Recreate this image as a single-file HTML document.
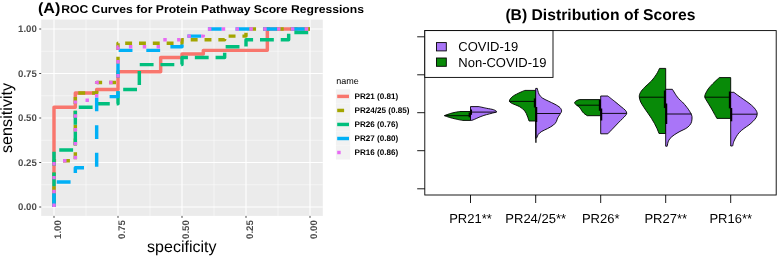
<!DOCTYPE html>
<html lang="en"><head><meta charset="utf-8"><title>ROC Curves and Distribution of Scores</title>
<style>html,body{margin:0;padding:0;background:#fff;}body{width:778px;height:257px;overflow:hidden;}svg{display:block;}text{font-family:"Liberation Sans",Arial,Helvetica,sans-serif;text-rendering:geometricPrecision;}</style>
</head><body>
<svg width="778" height="257" viewBox="0 0 778 257">
<rect x="0" y="0" width="778" height="257" fill="#ffffff"/>
<g id="panelA">
<rect x="41.20" y="19.60" width="281.60" height="196.30" fill="#EBEBEB"/>
<line x1="86.00" y1="19.60" x2="86.00" y2="215.90" stroke="#FFFFFF" stroke-width="0.5"/>
<line x1="41.20" y1="184.75" x2="322.80" y2="184.75" stroke="#FFFFFF" stroke-width="0.5"/>
<line x1="150.00" y1="19.60" x2="150.00" y2="215.90" stroke="#FFFFFF" stroke-width="0.5"/>
<line x1="41.20" y1="140.25" x2="322.80" y2="140.25" stroke="#FFFFFF" stroke-width="0.5"/>
<line x1="214.00" y1="19.60" x2="214.00" y2="215.90" stroke="#FFFFFF" stroke-width="0.5"/>
<line x1="41.20" y1="95.75" x2="322.80" y2="95.75" stroke="#FFFFFF" stroke-width="0.5"/>
<line x1="278.00" y1="19.60" x2="278.00" y2="215.90" stroke="#FFFFFF" stroke-width="0.5"/>
<line x1="41.20" y1="51.25" x2="322.80" y2="51.25" stroke="#FFFFFF" stroke-width="0.5"/>
<line x1="54.00" y1="19.60" x2="54.00" y2="215.90" stroke="#FFFFFF" stroke-width="1.1"/>
<line x1="41.20" y1="207.00" x2="322.80" y2="207.00" stroke="#FFFFFF" stroke-width="1.1"/>
<line x1="118.00" y1="19.60" x2="118.00" y2="215.90" stroke="#FFFFFF" stroke-width="1.1"/>
<line x1="41.20" y1="162.50" x2="322.80" y2="162.50" stroke="#FFFFFF" stroke-width="1.1"/>
<line x1="182.00" y1="19.60" x2="182.00" y2="215.90" stroke="#FFFFFF" stroke-width="1.1"/>
<line x1="41.20" y1="118.00" x2="322.80" y2="118.00" stroke="#FFFFFF" stroke-width="1.1"/>
<line x1="246.00" y1="19.60" x2="246.00" y2="215.90" stroke="#FFFFFF" stroke-width="1.1"/>
<line x1="41.20" y1="73.50" x2="322.80" y2="73.50" stroke="#FFFFFF" stroke-width="1.1"/>
<line x1="310.00" y1="19.60" x2="310.00" y2="215.90" stroke="#FFFFFF" stroke-width="1.1"/>
<line x1="41.20" y1="29.00" x2="322.80" y2="29.00" stroke="#FFFFFF" stroke-width="1.1"/>
<path d="M54.00 207.00 L54.00 107.32 L75.33 107.32 L75.33 93.08 L96.67 93.08 L96.67 89.52 L118.00 89.52 L118.00 71.72 L160.67 71.72 L160.67 57.48 L182.00 57.48 L182.00 53.92 L203.33 53.92 L203.33 50.36 L267.33 50.36 L267.33 29.00 L310.00 29.00" fill="none" stroke="#F8766D" stroke-width="3.45" stroke-linejoin="round" stroke-linecap="butt"/>
<path d="M54.00 207.00 L54.00 160.72 L75.33 160.72 L75.33 93.08 L96.67 93.08 L96.67 82.40 L118.00 82.40 L118.00 43.24 L182.00 43.24 L182.00 39.68 L224.67 39.68 L224.67 36.12 L246.00 36.12 L246.00 29.00 L310.00 29.00" fill="none" stroke="#A3A500" stroke-width="3.45" stroke-linejoin="round" stroke-linecap="butt" stroke-dasharray="6.91 6.91"/>
<path d="M54.00 207.00 L54.00 150.04 L75.33 150.04 L75.33 107.32 L96.67 107.32 L96.67 103.76 L118.00 103.76 L118.00 89.52 L139.33 89.52 L139.33 64.60 L182.00 64.60 L182.00 57.48 L224.67 57.48 L224.67 46.80 L246.00 46.80 L246.00 39.68 L288.67 39.68 L288.67 32.56 L310.00 32.56 L310.00 29.00" fill="none" stroke="#00BF7D" stroke-width="3.45" stroke-linejoin="round" stroke-linecap="butt" stroke-dasharray="13.83 6.91"/>
<path d="M54.00 207.00 L54.00 182.08 L75.33 182.08 L75.33 167.84 L96.67 167.84 L96.67 96.64 L118.00 96.64 L118.00 50.36 L160.67 50.36 L160.67 46.80 L182.00 46.80 L182.00 36.12 L203.33 36.12 L203.33 29.00 L310.00 29.00" fill="none" stroke="#00B0F6" stroke-width="3.45" stroke-linejoin="round" stroke-linecap="butt" stroke-dasharray="13.83 13.83"/>
<path d="M54.00 207.00 L54.00 160.72 L75.33 160.72 L75.33 100.20 L96.67 100.20 L96.67 82.40 L118.00 82.40 L118.00 46.80 L160.67 46.80 L160.67 39.68 L182.00 39.68 L182.00 36.12 L203.33 36.12 L203.33 29.00 L310.00 29.00" fill="none" stroke="#E76BF3" stroke-width="3.45" stroke-linejoin="round" stroke-linecap="butt" stroke-dasharray="3.46 10.37"/>
<line x1="54.00" y1="215.90" x2="54.00" y2="217.90" stroke="#333333" stroke-width="0.9"/>
<line x1="39.20" y1="207.00" x2="41.20" y2="207.00" stroke="#333333" stroke-width="0.9"/>
<line x1="118.00" y1="215.90" x2="118.00" y2="217.90" stroke="#333333" stroke-width="0.9"/>
<line x1="39.20" y1="162.50" x2="41.20" y2="162.50" stroke="#333333" stroke-width="0.9"/>
<line x1="182.00" y1="215.90" x2="182.00" y2="217.90" stroke="#333333" stroke-width="0.9"/>
<line x1="39.20" y1="118.00" x2="41.20" y2="118.00" stroke="#333333" stroke-width="0.9"/>
<line x1="246.00" y1="215.90" x2="246.00" y2="217.90" stroke="#333333" stroke-width="0.9"/>
<line x1="39.20" y1="73.50" x2="41.20" y2="73.50" stroke="#333333" stroke-width="0.9"/>
<line x1="310.00" y1="215.90" x2="310.00" y2="217.90" stroke="#333333" stroke-width="0.9"/>
<line x1="39.20" y1="29.00" x2="41.20" y2="29.00" stroke="#333333" stroke-width="0.9"/>
<text x="36.8" y="210.30" font-size="9.65" font-weight="bold" fill="#4D4D4D" text-anchor="end">0.00</text>
<text x="36.8" y="165.80" font-size="9.65" font-weight="bold" fill="#4D4D4D" text-anchor="end">0.25</text>
<text x="36.8" y="121.30" font-size="9.65" font-weight="bold" fill="#4D4D4D" text-anchor="end">0.50</text>
<text x="36.8" y="76.80" font-size="9.65" font-weight="bold" fill="#4D4D4D" text-anchor="end">0.75</text>
<text x="36.8" y="32.30" font-size="9.65" font-weight="bold" fill="#4D4D4D" text-anchor="end">1.00</text>
<text transform="translate(60.80 220.2) rotate(-90)" font-size="9.6" font-weight="bold" fill="#4D4D4D" text-anchor="end">1.00</text>
<text transform="translate(124.80 220.2) rotate(-90)" font-size="9.6" font-weight="bold" fill="#4D4D4D" text-anchor="end">0.75</text>
<text transform="translate(188.80 220.2) rotate(-90)" font-size="9.6" font-weight="bold" fill="#4D4D4D" text-anchor="end">0.50</text>
<text transform="translate(252.80 220.2) rotate(-90)" font-size="9.6" font-weight="bold" fill="#4D4D4D" text-anchor="end">0.25</text>
<text transform="translate(316.80 220.2) rotate(-90)" font-size="9.6" font-weight="bold" fill="#4D4D4D" text-anchor="end">0.00</text>
<text x="181.8" y="252.4" font-size="16" fill="#000000" text-anchor="middle">specificity</text>
<text transform="translate(12.3 117.9) rotate(-90)" font-size="16.2" fill="#000000" text-anchor="middle">sensitivity</text>
<text transform="translate(37.9 12.9) scale(1.09 1)" font-size="14.8" font-weight="bold" fill="#000000">(A)</text>
<text transform="translate(61.2 12.9) scale(1.072 1)" font-size="11.35" font-weight="bold" fill="#000000">ROC Curves for Protein Pathway Score Regressions</text>
<text x="336.3" y="83.6" font-size="9" fill="#000000">name</text>
<rect x="335.9" y="89.35" width="14.3" height="14.1" fill="#F2F2F2"/>
<line x1="337.2" y1="96.40" x2="349" y2="96.40" stroke="#F8766D" stroke-width="3.45"/>
<text x="354.5" y="99.35" font-size="8.1" font-weight="bold" fill="#000000">PR21 (0.81)</text>
<rect x="335.9" y="103.40" width="14.3" height="14.1" fill="#F2F2F2"/>
<line x1="337.2" y1="110.45" x2="349" y2="110.45" stroke="#A3A500" stroke-width="3.45" stroke-dasharray="6.91 6.91"/>
<text x="354.5" y="113.40" font-size="8.1" font-weight="bold" fill="#000000">PR24/25 (0.85)</text>
<rect x="335.9" y="117.40" width="14.3" height="14.1" fill="#F2F2F2"/>
<line x1="337.2" y1="124.45" x2="349" y2="124.45" stroke="#00BF7D" stroke-width="3.45" stroke-dasharray="13.83 6.91"/>
<text x="354.5" y="127.40" font-size="8.1" font-weight="bold" fill="#000000">PR26 (0.76)</text>
<rect x="335.9" y="131.45" width="14.3" height="14.1" fill="#F2F2F2"/>
<line x1="337.2" y1="138.50" x2="349" y2="138.50" stroke="#00B0F6" stroke-width="3.45" stroke-dasharray="13.83 13.83"/>
<text x="354.5" y="141.45" font-size="8.1" font-weight="bold" fill="#000000">PR27 (0.80)</text>
<rect x="335.9" y="145.45" width="14.3" height="14.1" fill="#F2F2F2"/>
<line x1="337.2" y1="152.50" x2="349" y2="152.50" stroke="#E76BF3" stroke-width="3.45" stroke-dasharray="3.46 10.37"/>
<text x="354.5" y="155.45" font-size="8.1" font-weight="bold" fill="#000000">PR16 (0.86)</text>
</g>
<g id="panelB">
<text x="600.4" y="20.2" font-size="15.7" font-weight="bold" fill="#000000" text-anchor="middle">(B) Distribution of Scores</text>
<path d="M470.50 111.50 L459.50 111.50 C459.50 111.50 454.22 112.42 451.70 113.10 C449.18 113.78 444.40 115.60 444.40 115.60 C444.40 115.60 447.83 116.93 449.70 117.50 C451.57 118.07 453.48 118.52 455.60 119.00 C457.72 119.48 462.40 120.40 462.40 120.40 L470.50 120.40 Z" fill="#088A08" stroke="#000000" stroke-width="0.9" stroke-linejoin="round"/>
<path d="M470.50 106.60 L478.90 106.60 C478.90 106.60 484.27 107.78 486.70 108.30 C489.13 108.82 491.85 109.13 493.50 109.70 C495.15 110.27 496.77 111.13 496.60 111.70 C496.43 112.27 494.15 112.62 492.50 113.10 C490.85 113.58 488.63 114.03 486.70 114.60 C484.77 115.17 483.17 115.62 480.90 116.50 C478.63 117.38 474.83 119.25 473.10 119.90 C471.37 120.55 470.50 120.40 470.50 120.40 Z" fill="#A975F8" stroke="#000000" stroke-width="0.9" stroke-linejoin="round"/>
<line x1="444.4" y1="115.7" x2="470.5" y2="115.7" stroke="#000000" stroke-width="0.90"/>
<line x1="470.5" y1="112.1" x2="496.6" y2="112.1" stroke="#000000" stroke-width="0.90"/>
<line x1="469.6" y1="112.5" x2="469.6" y2="117.3" stroke="#000000" stroke-width="1.90"/>
<line x1="471.1" y1="109.5" x2="471.1" y2="114.8" stroke="#000000" stroke-width="1.90"/>
<path d="M535.70 90.40 L524.80 90.40 C524.80 90.40 520.10 92.33 518.00 93.40 C515.90 94.47 513.63 95.53 512.20 96.80 C510.77 98.07 509.40 99.88 509.40 101.00 C509.40 102.12 510.47 102.53 512.20 103.50 C513.93 104.47 517.70 105.55 519.80 106.80 C521.90 108.05 523.55 109.47 524.80 111.00 C526.05 112.53 526.60 114.33 527.30 116.00 C528.00 117.67 529.00 121.00 529.00 121.00 L535.70 121.00 Z" fill="#088A08" stroke="#000000" stroke-width="0.9" stroke-linejoin="round"/>
<path d="M535.70 88.40 L537.30 88.40 C537.30 88.40 538.15 92.60 539.00 94.20 C539.85 95.80 540.87 96.87 542.40 98.00 C543.93 99.13 546.10 99.95 548.20 101.00 C550.30 102.05 553.03 103.20 555.00 104.30 C556.97 105.40 558.90 106.48 560.00 107.60 C561.10 108.72 561.60 109.88 561.60 111.00 C561.60 112.12 560.67 113.13 560.00 114.30 C559.33 115.47 558.20 116.80 557.60 118.00 C557.00 119.20 557.08 120.33 556.40 121.50 C555.72 122.67 554.95 123.83 553.50 125.00 C552.05 126.17 549.65 127.43 547.70 128.50 C545.75 129.57 543.37 130.43 541.80 131.40 C540.23 132.37 539.10 133.32 538.30 134.30 C537.50 135.28 537.43 136.60 537.00 137.30 C536.57 138.00 535.70 138.50 535.70 138.50 Z" fill="#A975F8" stroke="#000000" stroke-width="0.9" stroke-linejoin="round"/>
<line x1="509.4" y1="101.4" x2="535.7" y2="101.4" stroke="#000000" stroke-width="0.90"/>
<line x1="535.7" y1="113.5" x2="560.2" y2="113.5" stroke="#000000" stroke-width="0.90"/>
<line x1="535.9" y1="121.0" x2="535.9" y2="142.7" stroke="#000000" stroke-width="1.30"/>
<line x1="534.8" y1="98.4" x2="534.8" y2="107.5" stroke="#000000" stroke-width="1.90"/>
<line x1="536.3" y1="107.0" x2="536.3" y2="122.0" stroke="#000000" stroke-width="1.90"/>
<path d="M600.70 99.60 L579.30 99.60 C579.30 99.60 576.78 100.42 576.00 101.00 C575.22 101.58 574.43 102.37 574.60 103.10 C574.77 103.83 576.12 104.62 577.00 105.40 C577.88 106.18 579.12 106.92 579.90 107.80 C580.68 108.68 581.02 109.77 581.70 110.70 C582.38 111.63 583.07 112.57 584.00 113.40 C584.93 114.23 587.30 115.70 587.30 115.70 L600.70 115.70 Z" fill="#088A08" stroke="#000000" stroke-width="0.9" stroke-linejoin="round"/>
<path d="M600.70 96.00 L607.80 96.00 C607.80 96.00 612.58 99.72 614.80 101.50 C617.02 103.28 619.35 105.25 621.10 106.70 C622.85 108.15 624.37 109.15 625.30 110.20 C626.23 111.25 626.70 112.07 626.70 113.00 C626.70 113.93 626.58 114.28 625.30 115.80 C624.02 117.32 620.98 120.07 619.00 122.10 C617.02 124.13 615.27 126.05 613.40 128.00 C611.53 129.95 607.80 133.80 607.80 133.80 L600.70 133.80 Z" fill="#A975F8" stroke="#000000" stroke-width="0.9" stroke-linejoin="round"/>
<line x1="576.6" y1="105.2" x2="600.7" y2="105.2" stroke="#000000" stroke-width="0.90"/>
<line x1="600.7" y1="113.4" x2="626.7" y2="113.4" stroke="#000000" stroke-width="0.90"/>
<line x1="599.8" y1="100.0" x2="599.8" y2="110.8" stroke="#000000" stroke-width="1.90"/>
<line x1="601.3" y1="108.5" x2="601.3" y2="120.5" stroke="#000000" stroke-width="1.90"/>
<path d="M665.70 68.40 L659.50 68.40 C659.50 68.40 657.85 72.10 656.50 74.20 C655.15 76.30 653.37 78.83 651.40 81.00 C649.43 83.17 646.53 85.28 644.70 87.20 C642.87 89.12 641.30 90.88 640.40 92.50 C639.50 94.12 639.25 95.32 639.30 96.90 C639.35 98.48 639.88 100.18 640.70 102.00 C641.52 103.82 642.93 105.85 644.20 107.80 C645.47 109.75 647.07 111.90 648.30 113.70 C649.53 115.50 650.57 116.97 651.60 118.60 C652.63 120.23 653.60 121.85 654.50 123.50 C655.40 125.15 656.25 126.83 657.00 128.50 C657.75 130.17 659.00 133.50 659.00 133.50 L665.70 133.50 Z" fill="#088A08" stroke="#000000" stroke-width="0.9" stroke-linejoin="round"/>
<path d="M665.70 89.30 L672.40 89.30 C672.40 89.30 675.33 94.22 676.60 96.00 C677.87 97.78 678.88 98.83 680.00 100.00 C681.12 101.17 681.92 101.47 683.30 103.00 C684.68 104.53 687.08 107.52 688.30 109.20 C689.52 110.88 689.98 111.88 690.60 113.10 C691.22 114.32 691.83 115.07 692.00 116.50 C692.17 117.93 692.00 120.22 691.60 121.70 C691.20 123.18 690.55 124.27 689.60 125.40 C688.65 126.53 687.50 127.50 685.90 128.50 C684.30 129.50 681.95 130.33 680.00 131.40 C678.05 132.47 675.85 133.73 674.20 134.90 C672.55 136.07 671.12 137.23 670.10 138.40 C669.08 139.57 668.55 140.73 668.10 141.90 C667.65 143.07 667.55 144.68 667.40 145.40 C667.25 146.12 667.20 146.20 667.20 146.20 L665.70 146.20 Z" fill="#A975F8" stroke="#000000" stroke-width="0.9" stroke-linejoin="round"/>
<line x1="639.3" y1="97.2" x2="665.7" y2="97.2" stroke="#000000" stroke-width="0.90"/>
<line x1="665.7" y1="114.0" x2="691.8" y2="114.0" stroke="#000000" stroke-width="0.90"/>
<line x1="664.8" y1="90.5" x2="664.8" y2="108.0" stroke="#000000" stroke-width="1.90"/>
<line x1="666.3" y1="103.5" x2="666.3" y2="124.0" stroke="#000000" stroke-width="1.90"/>
<path d="M730.70 77.60 L719.30 77.60 C719.30 77.60 714.65 81.82 712.80 83.70 C710.95 85.58 709.45 87.15 708.20 88.90 C706.95 90.65 705.87 92.83 705.30 94.20 C704.73 95.57 704.72 96.25 704.80 97.10 C704.88 97.95 705.23 98.28 705.80 99.30 C706.37 100.32 707.22 101.58 708.20 103.20 C709.18 104.82 710.63 107.15 711.70 109.00 C712.77 110.85 713.73 112.73 714.60 114.30 C715.47 115.87 716.90 118.40 716.90 118.40 L730.70 118.40 Z" fill="#088A08" stroke="#000000" stroke-width="0.9" stroke-linejoin="round"/>
<path d="M730.70 92.30 L733.90 92.30 C733.90 92.30 735.85 93.87 737.40 95.00 C738.95 96.13 741.27 97.73 743.20 99.10 C745.13 100.47 747.25 101.84 749.00 103.20 C750.75 104.56 752.43 105.90 753.70 107.25 C754.97 108.60 756.02 110.12 756.60 111.30 C757.18 112.47 757.30 113.22 757.20 114.30 C757.10 115.38 756.73 116.58 756.00 117.80 C755.27 119.02 753.98 120.40 752.80 121.60 C751.62 122.80 750.38 123.85 748.90 125.00 C747.42 126.15 745.52 127.23 743.90 128.50 C742.28 129.77 740.47 131.23 739.20 132.60 C737.93 133.97 737.18 135.25 736.30 136.70 C735.42 138.15 734.48 139.85 733.90 141.30 C733.32 142.75 733.05 144.62 732.80 145.40 C732.55 146.18 732.40 146.00 732.40 146.00 L730.70 146.00 Z" fill="#A975F8" stroke="#000000" stroke-width="0.9" stroke-linejoin="round"/>
<line x1="704.8" y1="97.2" x2="730.7" y2="97.2" stroke="#000000" stroke-width="0.90"/>
<line x1="730.7" y1="114.2" x2="757.1" y2="114.2" stroke="#000000" stroke-width="0.90"/>
<line x1="729.8" y1="91.5" x2="729.8" y2="108.4" stroke="#000000" stroke-width="1.90"/>
<line x1="731.3" y1="108.0" x2="731.3" y2="121.3" stroke="#000000" stroke-width="1.90"/>
<rect x="424.80" y="30.60" width="351.40" height="164.40" fill="none" stroke="#000000" stroke-width="0.9"/>
<line x1="417.2" y1="36.8" x2="424.8" y2="36.8" stroke="#000000" stroke-width="0.90"/>
<line x1="417.2" y1="74.8" x2="424.8" y2="74.8" stroke="#000000" stroke-width="0.90"/>
<line x1="417.2" y1="112.7" x2="424.8" y2="112.7" stroke="#000000" stroke-width="0.90"/>
<line x1="417.2" y1="150.7" x2="424.8" y2="150.7" stroke="#000000" stroke-width="0.90"/>
<line x1="417.2" y1="188.8" x2="424.8" y2="188.8" stroke="#000000" stroke-width="0.90"/>
<line x1="470.5" y1="195.0" x2="470.5" y2="203.0" stroke="#000000" stroke-width="0.90"/>
<text x="470.5" y="223.4" font-size="13" fill="#000000" text-anchor="middle">PR21**</text>
<line x1="535.7" y1="195.0" x2="535.7" y2="203.0" stroke="#000000" stroke-width="0.90"/>
<text x="535.7" y="223.4" font-size="13" fill="#000000" text-anchor="middle">PR24/25**</text>
<line x1="600.7" y1="195.0" x2="600.7" y2="203.0" stroke="#000000" stroke-width="0.90"/>
<text x="600.7" y="223.4" font-size="13" fill="#000000" text-anchor="middle">PR26*</text>
<line x1="665.7" y1="195.0" x2="665.7" y2="203.0" stroke="#000000" stroke-width="0.90"/>
<text x="665.7" y="223.4" font-size="13" fill="#000000" text-anchor="middle">PR27**</text>
<line x1="730.7" y1="195.0" x2="730.7" y2="203.0" stroke="#000000" stroke-width="0.90"/>
<text x="730.7" y="223.4" font-size="13" fill="#000000" text-anchor="middle">PR16**</text>
<rect x="424.80" y="30.60" width="128.20" height="46.80" fill="#ffffff" stroke="#000000" stroke-width="0.9"/>
<rect x="436.5" y="42.6" width="9.8" height="8.3" fill="#A975F8" stroke="#000000" stroke-width="0.9"/>
<rect x="436.5" y="58" width="9.8" height="8.3" fill="#088A08" stroke="#000000" stroke-width="0.9"/>
<text x="458.3" y="50.8" font-size="13" fill="#000000">COVID-19</text>
<text x="458.3" y="67.2" font-size="13" fill="#000000">Non-COVID-19</text>
</g>
</svg>
</body></html>
